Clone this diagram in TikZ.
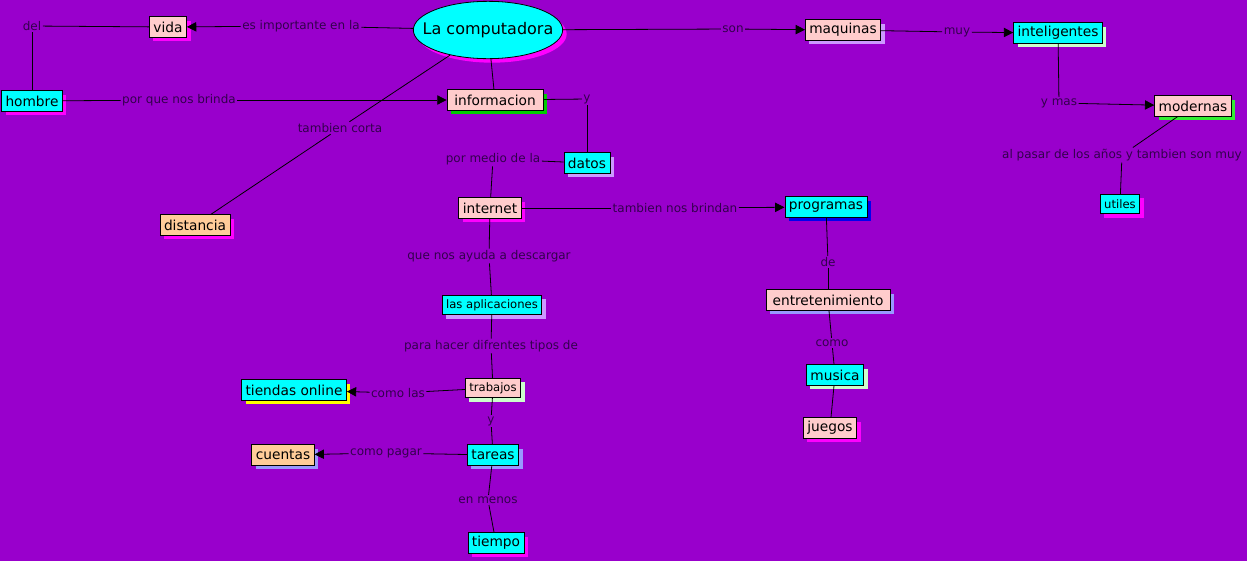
\documentclass[tikz,border=0pt]{standalone}
\usepackage{fontspec}
\setmainfont{DejaVu Sans}
\usetikzlibrary{shapes.geometric,shadows,arrows.meta}
\definecolor{fondo}{HTML}{9900CC}
\definecolor{celeste}{HTML}{00FFFF}
\definecolor{rosa}{HTML}{FFCCCC}
\definecolor{durazno}{HTML}{FFCC99}
\definecolor{fucsia}{HTML}{FF00FF}
\definecolor{verde}{HTML}{00CC00}
\definecolor{verdelima}{HTML}{33EE33}
\definecolor{lila}{HTML}{CC99FF}
\definecolor{verdeclaro}{HTML}{CCFFCC}
\definecolor{azul}{HTML}{0000EE}
\definecolor{amarillo}{HTML}{FFFF00}
\definecolor{violeta}{HTML}{9999FF}
\definecolor{textoenlace}{HTML}{33004D}

\tikzset{
  concepto/.style={draw=black, line width=0.6pt, fill=#1, text=black,
    inner xsep=3pt, inner ysep=1pt, minimum height=15.5pt,
    font=\fontsize{10.3}{12}\selectfont},
  chico/.style={font=\fontsize{8.7}{10}\selectfont, minimum height=14.5pt},
  sombra/.style={general shadow={fill=#1, shadow xshift=3pt, shadow yshift=-3pt}},
  enlace/.style={text=textoenlace, inner sep=1pt, font=\fontsize{9}{10}\selectfont},
  linea/.style={draw=black, line width=0.6pt},
  flecha/.style={linea, -{Triangle[length=7pt,width=7pt]}},
}

\begin{document}
\begin{tikzpicture}[x=0.75pt, y=-0.75pt]
\fill[fondo] (0,0) rectangle (1247,561);
\useasboundingbox (0,0) rectangle (1247,561);

% conceptos
\node[ellipse, concepto=celeste, sombra=fucsia, inner sep=0pt, minimum width=112pt, minimum height=43pt,
  label={[text=black, font=\fontsize{12}{14}\selectfont]center:La computadora}] (comp) at (488,30) {};
\node[concepto=rosa, sombra=fucsia] (vida) at (168,27) {vida};
\node[concepto=celeste, sombra=fucsia] (hombre) at (32,101) {hombre};
\node[concepto=rosa, sombra=verde, minimum width=72pt] (info) at (495,100) {informacion};
\node[concepto=celeste, sombra=lila] (datos) at (587,163) {datos};
\node[concepto=durazno, sombra=fucsia] (dist) at (195,225) {distancia};
\node[concepto=rosa, sombra=fucsia] (internet) at (490,208) {internet};
\node[concepto=celeste, sombra=azul] (prog) at (826,207) {programas};
\node[concepto=rosa, sombra=lila] (maq) at (843,30) {maquinas};
\node[concepto=celeste, sombra=verdeclaro] (intel) at (1058,33) {inteligentes};
\node[concepto=rosa, sombra=verdelima] (mod) at (1193,106) {modernas};
\node[concepto=celeste, sombra=fucsia, chico] (utiles) at (1120,204) {utiles};
\node[concepto=celeste, sombra=lila, chico] (apps) at (492,305) {las aplicaciones};
\node[concepto=rosa, sombra=verdeclaro, chico] (trab) at (493,388) {trabajos};
\node[concepto=celeste, sombra=amarillo] (tiendas) at (294,390) {tiendas online};
\node[concepto=celeste, sombra=violeta] (tareas) at (493,455) {tareas};
\node[concepto=durazno, sombra=violeta] (cuentas) at (283,455) {cuentas};
\node[concepto=celeste, sombra=fucsia] (tiempo) at (496,543) {tiempo};
\node[concepto=rosa, sombra=violeta, minimum width=93pt] (entre) at (828,300) {entretenimiento};
\node[concepto=celeste, sombra=verdeclaro] (musica) at (835,375) {musica};
\node[concepto=rosa, sombra=fucsia] (juegos) at (830,428) {juegos};

% palabras de enlace
\node[enlace] (esimp) at (301,26) {es importante en la};
\node[enlace] (del) at (32,26) {del};
\node[enlace] (porque) at (179,100) {por que nos brinda};
\node[enlace] (corta) at (340,128) {tambien corta};
\node[enlace] (y1) at (587,99) {y};
\node[enlace] (medio) at (493,159) {por medio de la};
\node[enlace] (brindan) at (675,208) {tambien nos brindan};
\node[enlace] (son) at (733,29) {son};
\node[enlace] (muy) at (957,32) {muy};
\node[enlace] (ymas) at (1059,103) {y mas};
\node[enlace] (pasar) at (1122,155) {al pasar de los años y tambien son muy};
\node[enlace] (ayuda) at (489,256) {que nos ayuda a descargar};
\node[enlace] (hacer) at (491,346) {para hacer difrentes tipos de};
\node[enlace] (comolas) at (398,393) {como las};
\node[enlace] (y2) at (491,421) {y};
\node[enlace] (pagar) at (386,453) {como pagar};
\node[enlace] (menos) at (488,500) {en menos};
\node[enlace] (de) at (828,262) {de};
\node[enlace] (como) at (832,343) {como};

% conexiones
\draw[linea] (comp) -- (esimp);
\draw[flecha] (esimp) -- (vida);
\draw[linea] (vida) -- (del);
\draw[linea] (del) -- (hombre);
\draw[linea] (hombre) -- (porque);
\draw[flecha] (porque) -- (info);
\draw[linea] (comp) -- (corta);
\draw[linea] (corta) -- (dist);
\draw[linea] (comp) -- (info);
\draw[linea] (info) -- (y1);
\draw[linea] (y1) -- (datos);
\draw[linea] (datos) -- (medio);
\draw[linea] (medio) -- (internet);
\draw[linea] (internet) -- (brindan);
\draw[flecha] (brindan) -- (prog);
\draw[linea] (comp) -- (son);
\draw[flecha] (son) -- (maq);
\draw[linea] (maq) -- (muy);
\draw[flecha] (muy) -- (intel);
\draw[linea] (intel) -- (ymas);
\draw[flecha] (ymas) -- (mod);
\draw[linea] (mod) -- (pasar);
\draw[linea] (pasar) -- (utiles);
\draw[linea] (internet) -- (ayuda);
\draw[linea] (ayuda) -- (apps);
\draw[linea] (apps) -- (hacer);
\draw[linea] (hacer) -- (trab);
\draw[linea] (trab) -- (comolas);
\draw[flecha] (comolas) -- (tiendas);
\draw[linea] (trab) -- (y2);
\draw[linea] (y2) -- (tareas);
\draw[linea] (tareas) -- (pagar);
\draw[flecha] (pagar) -- (cuentas);
\draw[linea] (tareas) -- (menos);
\draw[linea] (menos) -- (tiempo);
\draw[linea] (prog) -- (de);
\draw[linea] (de) -- (entre);
\draw[linea] (entre) -- (como);
\draw[linea] (como) -- (musica);
\draw[linea] (musica) -- (juegos);
\end{tikzpicture}
\end{document}
